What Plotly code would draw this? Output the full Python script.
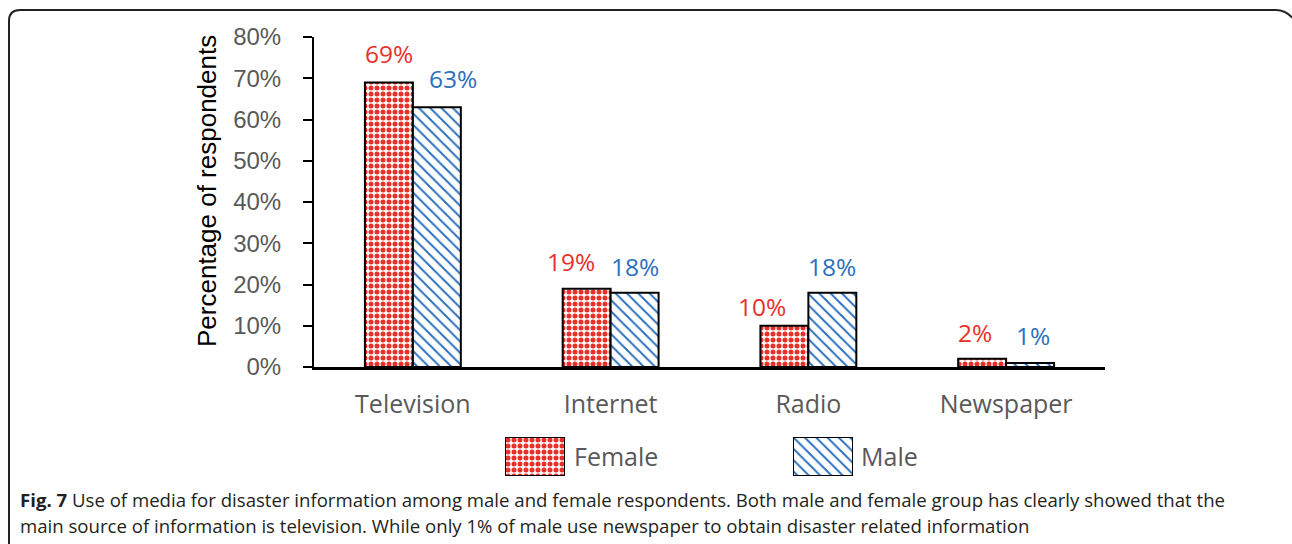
import plotly.graph_objects as go

# Survey results: share of respondents using each medium for disaster information
categories = ["Television", "Internet", "Radio", "Newspaper"]
female = [69, 19, 10, 2]
male = [63, 18, 18, 1]
y_ticks = [0, 10, 20, 30, 40, 50, 60, 70, 80]
y_tick_labels = [f"{v}%" for v in y_ticks]

caption_1 = ("Use of media for disaster information among male and female respondents. "
             "Both male and female group has clearly showed that the")
caption_2 = ("main source of information is television. While only 1% of male use newspaper "
             "to obtain disaster related information")

# hand-tuned label nudges (pixels) so value labels don't collide
female_label_dx = [-24, -40, -46, -31]
female_label_dy = [29, 27, 19, 26]
male_label_dx = [40, 24, 24, 27]
male_label_dy = [29, 26, 26, 27]

RED = "#e8302a"
BLUE = "#2a70bd"
GRAY = "#595959"
INK = "#231f20"

W, H = 1292, 544
L, R, T, B = 314, 1105, 37, 367  # plot area in pixels


def px(x):
    return x / W


def py(y):
    return (H - y) / H


FEMALE_PAT = dict(shape=".", fgcolor=RED, bgcolor="white", fgopacity=1, size=6, solidity=0.55)
MALE_PAT = dict(shape="\\", fgcolor=BLUE, bgcolor="white", fgopacity=1, size=8, solidity=0.24)

fig = go.Figure()

fig.add_trace(go.Bar(
    x=categories, y=female, name="Female",
    marker=dict(color="white", line=dict(color="black", width=2), pattern=FEMALE_PAT),
))
fig.add_trace(go.Bar(
    x=categories, y=male, name="Male",
    marker=dict(color="white", line=dict(color="black", width=2), pattern=MALE_PAT),
))

# value labels above each bar
for i, (cat, f, m) in enumerate(zip(categories, female, male)):
    fig.add_annotation(x=cat, y=f, text=f"{f}%", xshift=female_label_dx[i], yshift=female_label_dy[i],
                       showarrow=False, font=dict(family="Open Sans", size=24.5, color=RED))
    fig.add_annotation(x=cat, y=m, text=f"{m}%", xshift=male_label_dx[i], yshift=male_label_dy[i],
                       showarrow=False, font=dict(family="Open Sans", size=24.5, color=BLUE))

# legend swatches: one patterned bar on each small inset axis
swatches = [
    ("Female", (505, 565), FEMALE_PAT, 572),
    ("Male", (793, 853), MALE_PAT, 859),
]
for i, (name, (x0, x1), pat, tx) in enumerate(swatches):
    n = i + 2
    fig.add_trace(go.Bar(
        x=[0], y=[1], xaxis=f"x{n}", yaxis=f"y{n}", width=1, hoverinfo="skip",
        marker=dict(color="white", line=dict(color="black", width=2), pattern=pat),
    ))
    fig.update_layout({
        f"xaxis{n}": dict(domain=[px(x0), px(x1)], range=[-0.5, 0.5], visible=False,
                          fixedrange=True, anchor=f"y{n}", automargin=False),
        f"yaxis{n}": dict(domain=[py(476), py(437)], range=[0, 1], visible=False,
                          fixedrange=True, anchor=f"x{n}", automargin=False),
    })
    fig.add_annotation(xref="paper", yref="paper", x=px(tx), y=py(456), text=name,
                       xanchor="left", yanchor="middle", showarrow=False,
                       font=dict(family="Open Sans", size=25, color=GRAY))

# y-axis title
fig.add_annotation(xref="paper", yref="paper", x=px(207), y=py(191), text="Percentage of respondents",
                   textangle=-90, showarrow=False, xanchor="center", yanchor="middle",
                   font=dict(family="Liberation Sans", size=26, color="black"))

# figure caption
fig.add_annotation(xref="paper", yref="paper", x=px(18), y=py(499), xanchor="left", yanchor="middle",
                   text="<b>Fig. 7</b> " + caption_1, showarrow=False,
                   font=dict(family="Open Sans", size=18.6, color=INK))
fig.add_annotation(xref="paper", yref="paper", x=px(18), y=py(525), xanchor="left", yanchor="middle",
                   text=caption_2, showarrow=False,
                   font=dict(family="Open Sans", size=18.6, color=INK))

# rounded frame around the figure (bottom and right edges run off the page)
r = 11
frame = (f"M {px(9)},{py(600)} L {px(9)},{py(10 + r)} "
         f"Q {px(9)},{py(10)} {px(9 + r)},{py(10)} "
         f"L {px(1287 - r)},{py(10)} Q {px(1287)},{py(10)} {px(1295)},{py(10 + r)} "
         f"L {px(1300)},{py(600)}")
fig.add_shape(type="path", path=frame, xref="paper", yref="paper",
              line=dict(color="#222222", width=2))

fig.update_layout(
    width=W, height=H,
    margin=dict(l=0, r=0, t=0, b=0, pad=0, autoexpand=False),
    paper_bgcolor="white", plot_bgcolor="white",
    barmode="group", bargap=0.515, bargroupgap=0,
    showlegend=False,
    xaxis=dict(
        domain=[px(L), px(R)], anchor="y", automargin=False,
        showline=True, linecolor="black", linewidth=3, ticks="",
        tickfont=dict(family="Open Sans", size=25, color=GRAY),
        ticklabelstandoff=13, fixedrange=True,
    ),
    yaxis=dict(
        domain=[py(B), py(T)], anchor="x", automargin=False,
        range=[0, 80], tickvals=y_ticks, ticktext=y_tick_labels,
        showline=True, linecolor="black", linewidth=2,
        ticks="outside", ticklen=9, tickwidth=2, tickcolor="black",
        showgrid=False, zeroline=False,
        tickfont=dict(family="Liberation Sans", size=24, color=GRAY),
        ticklabelstandoff=17, fixedrange=True,
    ),
    font=dict(family="Open Sans"),
)

fig.write_html("out.html")
